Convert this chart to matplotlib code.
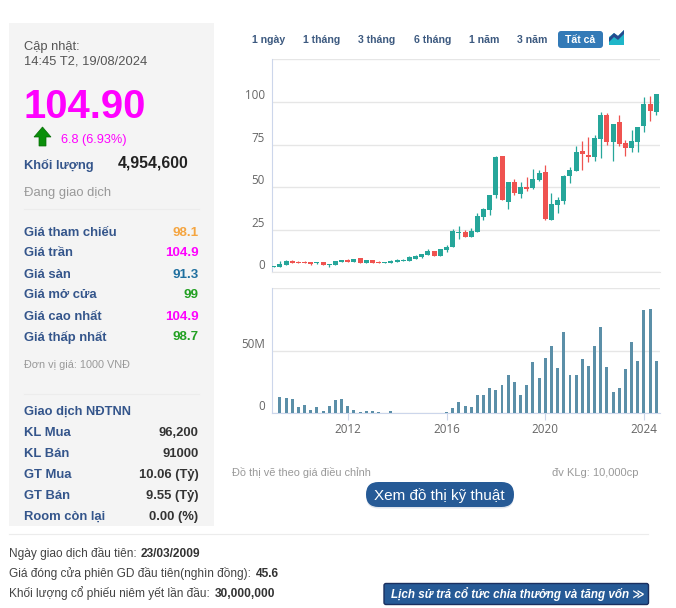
import pandas as pd
from matplotlib import pyplot as plt
from matplotlib.patches import FancyBboxPatch, Polygon, Rectangle

# quarterly candles, Q1 2009 to Q3 2024
quarters = pd.date_range("2009-01-01", periods=63, freq="QS")
opens = [3.3, 3.3, 4.3, 6.7, 6.1, 6.1, 5.9, 5.3, 5.9, 4.3, 4.3, 6.1, 7.3, 6.1, 8.4, 5.5,
         7.3, 6.3, 5.7, 5.5, 6.1, 6.7, 6.7, 7.8, 8.8, 10.2, 12.5, 9.6, 13.1, 14.9, 23.1, 23.7,
         20.8, 23.7, 32.5, 36.7, 45.5, 68.4, 41.4, 53.1, 46.1, 50.2, 49.6, 54.3, 59.0, 30.8,
         39.6, 42.0, 56.7, 59.6, 71.4, 69.0, 67.8, 78.4, 92.5, 76.7, 88.4, 76.1, 73.1, 76.7,
         86.1, 99.0, 94.3]
closes = [3.7, 4.9, 6.7, 5.7, 5.7, 5.7, 5.1, 5.7, 4.3, 4.7, 6.7, 7.3, 6.1, 7.8, 5.5, 7.3,
          5.5, 5.5, 6.1, 6.9, 7.3, 7.5, 8.8, 9.6, 10.8, 12.5, 9.6, 13.7, 15.1, 24.3, 23.7, 20.8,
          24.3, 33.1, 37.3, 45.5, 67.8, 42.5, 53.1, 46.7, 50.2, 49.0, 54.9, 58.4, 31.4, 40.2,
          42.5, 56.7, 60.2, 70.8, 69.6, 67.8, 79.0, 92.5, 76.7, 87.3, 75.5, 73.1, 77.3, 85.5,
          99.0, 94.9, 104.9]
highs = [3.9, 6.5, 7.3, 7.3, 6.9, 6.7, 6.1, 6.3, 6.1, 4.7, 6.7, 7.5, 7.6, 7.8, 8.4, 7.3,
         7.3, 6.7, 6.1, 7.1, 7.6, 7.8, 9.6, 10.2, 10.8, 13.7, 12.5, 13.9, 16.1, 25.5, 27.3, 24.9,
         26.1, 34.9, 37.8, 45.5, 68.4, 68.4, 53.1, 54.9, 53.1, 56.1, 60.8, 60.2, 63.1, 46.7,
         44.3, 57.3, 62.0, 74.3, 77.3, 79.6, 80.8, 94.3, 93.7, 87.3, 92.5, 77.8, 83.7, 85.5,
         103.1, 103.7, 104.9]
lows = [3.1, 3.3, 4.3, 5.3, 5.3, 5.3, 4.3, 4.9, 4.3, 2.9, 4.3, 6.1, 6.1, 6.1, 5.5, 5.5,
        5.5, 5.5, 5.7, 5.5, 6.1, 6.5, 6.7, 7.8, 8.2, 10.2, 9.6, 9.6, 12.0, 14.9, 19.6, 20.8,
        20.8, 23.7, 30.8, 33.7, 43.7, 42.5, 37.3, 45.5, 43.7, 47.8, 49.0, 53.7, 30.8, 30.8,
        34.9, 40.2, 52.5, 59.6, 60.2, 64.9, 65.5, 67.3, 74.9, 65.5, 74.3, 68.4, 70.8, 70.8,
        82.5, 89.0, 92.5]
volumes = [0, 13, 12, 11.4, 5, 6.5, 2.4, 5, 1.6, 5.7, 10.5, 11.4, 5.7, 2.4, 0.8, 1.6,
           1.6, 0.8, 0, 1.6, 0, 0, 0, 0, 0, 0, 0, 0.4, 0.5, 4, 9, 5.7,
           5, 14.6, 14.6, 20, 18.6, 22.7, 30.8, 25, 14.6, 22.7, 41.4, 28.4, 44.6, 54.3,
           36.5, 65.7, 30.8, 30.8, 43.8, 38, 54.3, 69.7, 37.3, 17, 20, 35.7, 57.6, 42,
           83.5, 84.3, 42]

price_ticks = [0, 25, 50, 75, 100]
volume_ticks = [0, 50]
volume_tick_labels = ["0", "50M"]
year_ticks = [2012, 2016, 2020, 2024]
range_buttons = ["1 ngày", "1 tháng", "3 tháng", "6 tháng", "1 năm", "3 năm"]
range_button_x = [252, 303, 358, 414, 469, 517]

price_rows = ["Giá tham chiếu", "Giá trần", "Giá sàn", "Giá mở cửa", "Giá cao nhất", "Giá thấp nhất"]
price_values = ["98.1", "104.9", "91.3", "99", "104.9", "98.7"]
price_colors = ["#f5a540", "#ff00ff", "#1f6f9f", "#22a022", "#ff00ff", "#22a022"]
foreign_rows = ["KL Mua", "KL Bán", "GT Mua", "GT Bán", "Room còn lại"]
foreign_values = ["96,200", "91000", "10.06 (Tỷ)", "9.55 (Tỷ)", "0.00 (%)"]

UP = "#26a69a"
DOWN = "#ef5350"
BLUE = "#34558b"
NAVY = "#265a96"
GRID = "#e6e6e6"
AXIS = "#ccd6eb"
FONT = ["Liberation Sans", "DejaVu Sans"]
CHART_FONT = "Open Sans"

fig = plt.figure(figsize=(6.76, 6.08), dpi=100)


def axes_px(left, top, right, bottom):
    return fig.add_axes([left / 676, 1 - bottom / 608, (right - left) / 676, (bottom - top) / 608])


# page layer, coordinates in pixels, y is the text baseline
page = fig.add_axes([0, 0, 1, 1])
page.set_xlim(0, 676)
page.set_ylim(608, 0)
page.axis("off")


def txt(x, y, s, size=9.4, color="#333333", weight="normal", ha="left", **kw):
    page.text(x, y, s, fontsize=size, color=color, fontweight=weight, ha=ha, va="baseline",
              family=FONT, **kw)


def button(x0, y0, x1, y1, color, radius, edge="none", **kw):
    page.add_patch(FancyBboxPatch((x0 + radius, y0 + radius), x1 - x0 - 2 * radius, y1 - y0 - 2 * radius,
                                  boxstyle="round,pad=%s,rounding_size=%s" % (radius, radius),
                                  fc=color, ec=edge, lw=1, **kw))


page.add_patch(Rectangle((9, 23), 205, 503, fc="#f4f4f4", ec="none"))
txt(24, 50, "Cập nhật:", 9.3, "#555555")
txt(24, 65, "14:45 T2, 19/08/2024", 9.3, "#555555")
txt(24, 118, "104.90", 28.8, "#ff00ff", "bold")
page.add_patch(Polygon([[42.5, 127], [51, 137], [46, 137], [46, 146], [39, 146], [39, 137], [34, 137]],
                       fc="#0a8f0a", ec="#056b05", lw=0.5))
txt(61, 142.5, "6.8 (6.93%)", 9.2, "#ff00ff")
txt(24, 169, "Khối lượng", 9.3, BLUE, "bold")
txt(189, 167.5, "4,954,600", 11.4, "#222222", "bold", ha="right")
txt(24, 196, "Đang giao dịch", 9.4, "#999999")
page.plot([24, 199], [209, 209], color="#ececec", lw=0.8)

for i in range(len(price_rows)):
    y = 235.5 + i * 21
    txt(24, y, price_rows[i], 9.4, BLUE, "bold")
    txt(198.5, y, price_values[i], 9.6, price_colors[i], "bold", ha="right")
txt(24, 368.5, "Đơn vị giá: 1000 VNĐ", 7.8, "#999999")
page.plot([24, 199], [394, 394], color="#ececec", lw=0.8)

txt(24, 415, "Giao dịch NĐTNN", 9.3, BLUE, "bold")
for i in range(len(foreign_rows)):
    y = 436 + i * 21
    txt(24, y, foreign_rows[i], 9.4, BLUE, "bold")
    txt(198.5, y, foreign_values[i], 9.4, "#333333", "bold", ha="right")

# range selector
for x, label in zip(range_button_x, range_buttons):
    txt(x, 43, label, 7.6, "#3d5a80", "bold")
button(558, 31, 603, 48, "#337ab7", 3)
txt(580.5, 43, "Tất cả", 7.6, "white", "bold", ha="center")
page.add_patch(Polygon([[609, 45], [609, 37], [614, 33], [618, 36], [624, 30], [624, 45]], fc="#1fb6c9", ec="none"))
page.add_patch(Polygon([[609, 38], [614, 33], [618, 36], [624, 30], [624, 34], [618, 40], [614, 37], [609, 42]],
                       fc="#274b8f", ec="none"))

# candles
ax = axes_px(271.7, 59.5, 660, 272.3)
candle_width = pd.Timedelta(days=74)
for q, o, c, h, l in zip(quarters, opens, closes, highs, lows):
    color = UP if c >= o else DOWN
    ax.vlines(q, l, h, color=color, lw=0.9, zorder=2)
    ax.bar(q, max(abs(c - o), 0.5), bottom=min(o, c), width=candle_width, color=color, zorder=3)
ax.set_ylim(0, 125)
ax.set_yticks(price_ticks + [125])
ax.set_yticklabels([str(v) for v in price_ticks] + [""])

# volume
ax2 = axes_px(271.7, 288.5, 660, 413)
ax2.bar(quarters, volumes, width=pd.Timedelta(days=44), color="#5b8fa8", zorder=3)
ax2.set_ylim(0, 101)
ax2.set_yticks(volume_ticks + [101])
ax2.set_yticklabels(volume_tick_labels + [""])
ax2.set_xticks([pd.Timestamp(str(y) + "-01-01") for y in year_ticks])
ax2.set_xticklabels([str(y) for y in year_ticks], fontsize=8.4, color="#666666", family=CHART_FONT)

for a in (ax, ax2):
    a.set_xlim(pd.Timestamp("2008-12-01"), pd.Timestamp("2024-08-25"))
    a.grid(axis="y", color=GRID, lw=1, zorder=0)
    a.set_axisbelow(True)
    for s in ("top", "right"):
        a.spines[s].set_visible(False)
    a.spines["left"].set_color(AXIS)
    a.spines["bottom"].set_color(GRID if a is ax else AXIS)
    a.tick_params(axis="y", length=0, pad=5)
    for t in a.get_yticklabels():
        t.set_fontsize(8.4)
        t.set_color("#666666")
        t.set_family(CHART_FONT)
        t.set_verticalalignment("bottom")
ax.set_xticks([])
ax2.tick_params(axis="x", length=5, color=AXIS, pad=2)

# notes and buttons below the chart
txt(232, 475.5, "Đồ thị vẽ theo giá điều chỉnh", 7.9, "#999999")
txt(638.5, 475.5, "đv KLg: 10,000cp", 8, "#999999", ha="right")
button(366, 483.5, 514, 508.5, "#dfe5ee", 12.5)
button(366, 482, 514, 507, NAVY, 12.5)
txt(439.5, 500, "Xem đồ thị kỹ thuật", 11, "white", ha="center")
page.plot([9, 648], [534, 534], color="#ececec", lw=0.8)

txt(9, 556.7, "Ngày giao dịch đầu tiên:", 8.6, "#444444")
txt(141, 556.7, "23/03/2009", 8.6, "#333333", "bold")
txt(9, 576.7, "Giá đóng cửa phiên GD đầu tiên(nghìn đồng):", 8.6, "#444444")
txt(256, 576.7, "45.6", 8.6, "#333333", "bold")
txt(9, 596.7, "Khối lượng cổ phiếu niêm yết lần đầu:", 8.6, "#444444")
txt(215, 596.7, "30,000,000", 8.6, "#333333", "bold")
button(384, 583.5, 648.5, 604.5, NAVY, 2, edge="#1a2f5f")
txt(517.5, 597.7, "Lịch sử trả cổ tức chia thưởng và tăng vốn ≫", 8.4, "white", "bold", ha="center",
    style="italic")

fig.savefig("out.png", dpi=100)
